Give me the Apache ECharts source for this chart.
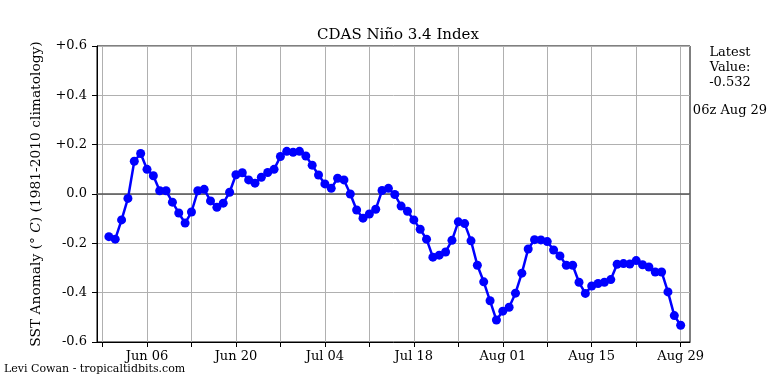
<!DOCTYPE html>
<html>
<head>
<meta charset="utf-8">
<script src="https://cdn.jsdelivr.net/npm/echarts@6/dist/echarts.min.js"></script>
<style>
html,body{margin:0;padding:0;background:#fff;}
#chart{width:768px;height:384px;}
</style>
</head>
<body>
<div id="chart"></div>
<script>
// Daily CDAS Nino 3.4 values, day 0 = May 31, last = Aug 29
const values = [-0.173,-0.183,-0.105,-0.018,0.133,0.164,0.100,0.074,0.013,0.013,
-0.033,-0.077,-0.118,-0.073,0.013,0.019,-0.028,-0.054,-0.037,0.007,
0.078,0.086,0.057,0.044,0.068,0.087,0.100,0.152,0.173,0.169,
0.173,0.154,0.117,0.077,0.041,0.023,0.064,0.057,0.000,-0.065,
-0.098,-0.081,-0.062,0.014,0.023,-0.002,-0.049,-0.070,-0.105,-0.143,
-0.183,-0.256,-0.248,-0.235,-0.188,-0.113,-0.120,-0.190,-0.289,-0.356,
-0.433,-0.511,-0.475,-0.459,-0.402,-0.321,-0.223,-0.185,-0.186,-0.193,
-0.227,-0.251,-0.289,-0.289,-0.358,-0.403,-0.373,-0.363,-0.358,-0.347,
-0.285,-0.282,-0.284,-0.270,-0.287,-0.296,-0.316,-0.316,-0.397,-0.493,-0.532];
const tickDays = [-1,6,13,20,27,34,41,48,55,62,69,76,83,90];
const labelDays = [6,20,34,48,62,76,90];
const tickLabels = ['Jun 06','Jun 20','Jul 04','Jul 18','Aug 01','Aug 15','Aug 29'];
const yTicks = [-0.6,-0.4,-0.2,0,0.2,0.4,0.6];
const latestValue = '-0.532';
const latestTime = '06z Aug 29';

const FONT = 'DejaVu Serif';
const chart = echarts.init(document.getElementById('chart'), null, {renderer:'canvas'});
const data = values.map((v,i)=>[i,v]);

chart.setOption({
  animation:false,
  backgroundColor:'#fff',
  title:{
    text:'CDAS Niño 3.4 Index',
    left:393, top:23, textAlign:'center',
    textStyle:{fontFamily:FONT,fontSize:15,fontWeight:'normal',color:'#000'}
  },
  graphic:[
    {type:'text', style:{text:'Latest\nValue:\n'+latestValue, x:730, y:45, textAlign:'center', font:'13px "DejaVu Serif"', fill:'#000', lineHeight:15}},
    {type:'text', style:{text:latestTime, x:730, y:104, textAlign:'center', font:'13px "DejaVu Serif"', fill:'#000'}},
    {type:'text', style:{text:'Levi Cowan - tropicaltidbits.com', x:4, y:364, font:'11px "DejaVu Serif"', fill:'#000'}}
  ],
  grid:{left:97,right:78,top:46,bottom:42,show:true,borderColor:'#000',borderWidth:1,backgroundColor:'transparent'},
  xAxis:{
    type:'value', min:-1.87, max:91.47,
    axisLine:{show:true,onZero:false,lineStyle:{color:'#000',width:1}},
    axisTick:{show:true,inside:false,length:5,lineStyle:{color:'#000'},customValues:tickDays},
    axisLabel:{customValues:tickDays,margin:8,fontFamily:FONT,fontSize:13,color:'#000',
      formatter:function(v){const k=labelDays.indexOf(Math.round(v));return k>=0?tickLabels[k]:'';}},
    splitLine:{show:true,lineStyle:{color:'#b0b0b0',width:1}}
  },
  yAxis:{
    type:'value', min:-0.6, max:0.6, interval:0.2,
    axisLine:{show:true,onZero:false,lineStyle:{color:'#000',width:1}},
    axisTick:{show:true,length:5,lineStyle:{color:'#000'}},
    axisLabel:{margin:10,fontFamily:FONT,fontSize:13,color:'#000',
      formatter:function(v){const r=Math.round(v*10)/10; if(Math.abs(r)<1e-9) return '0.0'; return (r>0?'+':'')+r.toFixed(1);}},
    splitLine:{show:true,lineStyle:{color:'#b0b0b0',width:1}},
    name:'{n|SST Anomaly (}{i|° C}{n|) (1981-2010 climatology)}',
    nameLocation:'middle', nameGap:54, nameRotate:90,
    nameTextStyle:{fontFamily:FONT,fontSize:13.8,color:'#000',
      rich:{n:{fontFamily:FONT,fontSize:13.8,color:'#000'},i:{fontFamily:FONT,fontSize:13.8,fontStyle:'italic',color:'#000'}}}
  },
  series:[{
    type:'line', data:data,
    symbol:'circle', symbolSize:9,
    lineStyle:{color:'#0000ff',width:2.5},
    itemStyle:{color:'#0000ff'},
    z:5,
    markLine:{silent:true,symbol:'none',label:{show:false},
      lineStyle:{color:'#555',width:1.5,type:'solid'},
      data:[{yAxis:0}], z:3}
  }]
});
</script>
</body>
</html>
